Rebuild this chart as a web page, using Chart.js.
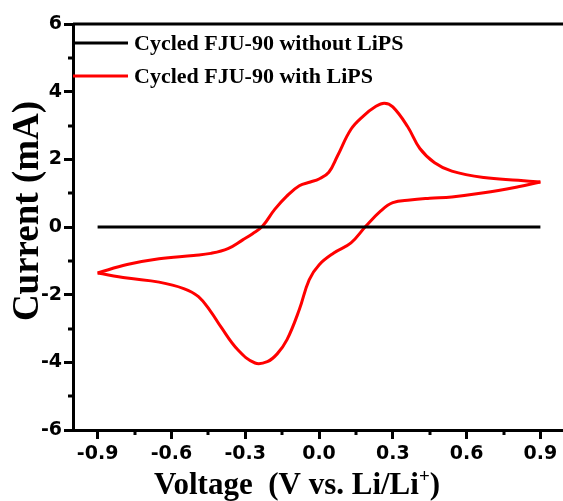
<!DOCTYPE html>
<html lang="en">
<head>
  <meta charset="UTF-8" />
  <title>CV curves of cycled FJU-90</title>
  <style>
    html, body { margin: 0; padding: 0; background: #fff; overflow: hidden; }
    #wrap { width: 568px; height: 501px; }
  </style>
</head>
<body>
  <div id="wrap"><canvas id="cvChart" width="568" height="501"></canvas></div>

  <script src="https://cdn.jsdelivr.net/npm/chart.js"></script>
  <script>
    // series names
    const seriesLabels = ['Cycled FJU-90 without LiPS', 'Cycled FJU-90 with LiPS'];
    const seriesColors = ['#000000', '#ff0000'];

    // blank cell: flat line
    const blankVoltage = [-0.9, 0.9];
    const blankCurrent = [0, 0];

    // with LiPS, anodic sweep (-0.9 -> 0.9 V)
    const fwdVoltage = [-0.90, -0.78, -0.65, -0.51, -0.44, -0.37, -0.31, -0.27, -0.23, -0.18, -0.13, -0.08, -0.035, 0.00, 0.04, 0.075, 0.13, 0.18, 0.23, 0.265, 0.30, 0.36, 0.41, 0.47, 0.54, 0.67, 0.81, 0.90];
    const fwdCurrent = [-1.36, -1.11, -0.94, -0.84, -0.78, -0.64, -0.38, -0.20, 0.02, 0.52, 0.92, 1.22, 1.33, 1.42, 1.62, 2.10, 2.89, 3.28, 3.56, 3.66, 3.55, 2.97, 2.32, 1.90, 1.65, 1.46, 1.38, 1.33];

    // with LiPS, cathodic sweep (0.9 -> -0.9 V)
    const revVoltage = [0.90, 0.81, 0.67, 0.54, 0.45, 0.37, 0.30, 0.25, 0.19, 0.13, 0.06, 0.00, -0.04, -0.08, -0.13, -0.17, -0.21, -0.26, -0.33, -0.40, -0.44, -0.49, -0.55, -0.65, -0.78, -0.90];
    const revCurrent = [1.33, 1.19, 1.01, 0.89, 0.85, 0.80, 0.72, 0.47, 0.02, -0.47, -0.77, -1.12, -1.56, -2.44, -3.33, -3.75, -3.98, -4.02, -3.63, -2.94, -2.50, -2.06, -1.82, -1.63, -1.51, -1.36];

    // axis ticks
    const xMajorTicks = [-0.9, -0.6, -0.3, 0.0, 0.3, 0.6, 0.9];
    const xMinorTicks = [-0.75, -0.45, -0.15, 0.15, 0.45, 0.75];
    const yMajorTicks = [-6, -4, -2, 0, 2, 4, 6];
    const yMinorTicks = [-5, -3, -1, 1, 3, 5];

    const xTitle = 'Voltage  (V vs. Li/Li';
    const yTitle = 'Current (mA)';

    const toPoints = (xs, ys) => xs.map((x, i) => ({ x, y: ys[i] }));

    const tickFont = { family: 'DejaVu Sans', size: 19, weight: 'bold' };
    const serif = '"Liberation Serif", "Times New Roman", serif';

    // top/right spine, minor ticks, legend and axis titles
    const decorations = {
      id: 'decorations',
      afterDraw(chart) {
        const { ctx, chartArea: a, scales } = chart;
        ctx.save();
        ctx.strokeStyle = '#000';
        ctx.lineWidth = 3;
        ctx.beginPath();
        ctx.moveTo(a.left, a.top);
        ctx.lineTo(a.right, a.top);
        ctx.lineTo(a.right, a.bottom);
        ctx.stroke();

        ctx.beginPath();
        xMinorTicks.forEach(v => {
          const px = Math.round(scales.x.getPixelForValue(v));
          ctx.moveTo(px, a.bottom);
          ctx.lineTo(px, a.bottom + 5);
        });
        yMinorTicks.forEach(v => {
          const py = Math.round(scales.y.getPixelForValue(v));
          ctx.moveTo(a.left, py);
          ctx.lineTo(a.left - 5, py);
        });
        ctx.stroke();

        // legend inside the plot
        ctx.font = 'bold 22px ' + serif;
        ctx.textBaseline = 'middle';
        ctx.textAlign = 'left';
        seriesLabels.forEach((label, i) => {
          const y = 43 + i * 33;
          ctx.strokeStyle = seriesColors[i];
          ctx.beginPath();
          ctx.moveTo(a.left, y);
          ctx.lineTo(a.left + 55, y);
          ctx.stroke();
          ctx.fillStyle = '#000';
          ctx.fillText(label, a.left + 61, y + 1);
        });

        // x title with superscript
        ctx.fillStyle = '#000';
        ctx.textBaseline = 'alphabetic';
        const main = 'bold 31px ' + serif;
        const sup = 'bold 19px ' + serif;
        ctx.font = main;
        const w1 = ctx.measureText(xTitle).width;
        const w3 = ctx.measureText(')').width;
        ctx.font = sup;
        const w2 = ctx.measureText('+').width;
        let x = 297 - (w1 + w2 + w3) / 2;
        const base = 494;
        ctx.font = main;
        ctx.fillText(xTitle, x, base);
        x += w1;
        ctx.font = sup;
        ctx.fillText('+', x, base - 12);
        x += w2;
        ctx.font = main;
        ctx.fillText(')', x, base);

        // y title
        ctx.translate(28, (a.top + a.bottom) / 2 - 16);
        ctx.rotate(-Math.PI / 2);
        ctx.font = 'bold 37px ' + serif;
        ctx.textAlign = 'center';
        ctx.textBaseline = 'middle';
        ctx.fillText(yTitle, 0, 0);
        ctx.restore();
      }
    };

    const lineSet = (points, color) => ({
      data: points,
      showLine: true,
      borderColor: color,
      backgroundColor: color,
      borderWidth: 3,
      pointRadius: 0,
      tension: 0.4,
      fill: false
    });

    new Chart(document.getElementById('cvChart'), {
      type: 'scatter',
      data: {
        datasets: [
          lineSet(toPoints(blankVoltage, blankCurrent), seriesColors[0]),
          lineSet(toPoints(fwdVoltage, fwdCurrent), seriesColors[1]),
          lineSet(toPoints(revVoltage, revCurrent), seriesColors[1])
        ]
      },
      options: {
        responsive: false,
        animation: false,
        layout: { padding: { top: 24, right: 3, left: 0, bottom: 0 } },
        plugins: { legend: { display: false }, tooltip: { enabled: false } },
        scales: {
          x: {
            type: 'linear',
            min: -1,
            max: 1,
            afterBuildTicks: s => { s.ticks = xMajorTicks.map(v => ({ value: v })); },
            afterFit: s => { s.height = 71; },
            ticks: { font: tickFont, color: '#000', padding: 4, maxRotation: 0, callback: v => v.toFixed(1) },
            grid: { drawOnChartArea: false, tickLength: 9, tickWidth: 3, tickColor: '#000' },
            border: { color: '#000', width: 3 }
          },
          y: {
            min: -6,
            max: 6,
            afterBuildTicks: s => { s.ticks = yMajorTicks.map(v => ({ value: v })); },
            afterFit: s => { s.width = 73; },
            ticks: { font: tickFont, color: '#000', padding: 2, callback: v => String(v) },
            grid: { drawOnChartArea: false, tickLength: 9, tickWidth: 3, tickColor: '#000' },
            border: { color: '#000', width: 3 }
          }
        }
      },
      plugins: [decorations]
    });
  </script>
</body>
</html>
